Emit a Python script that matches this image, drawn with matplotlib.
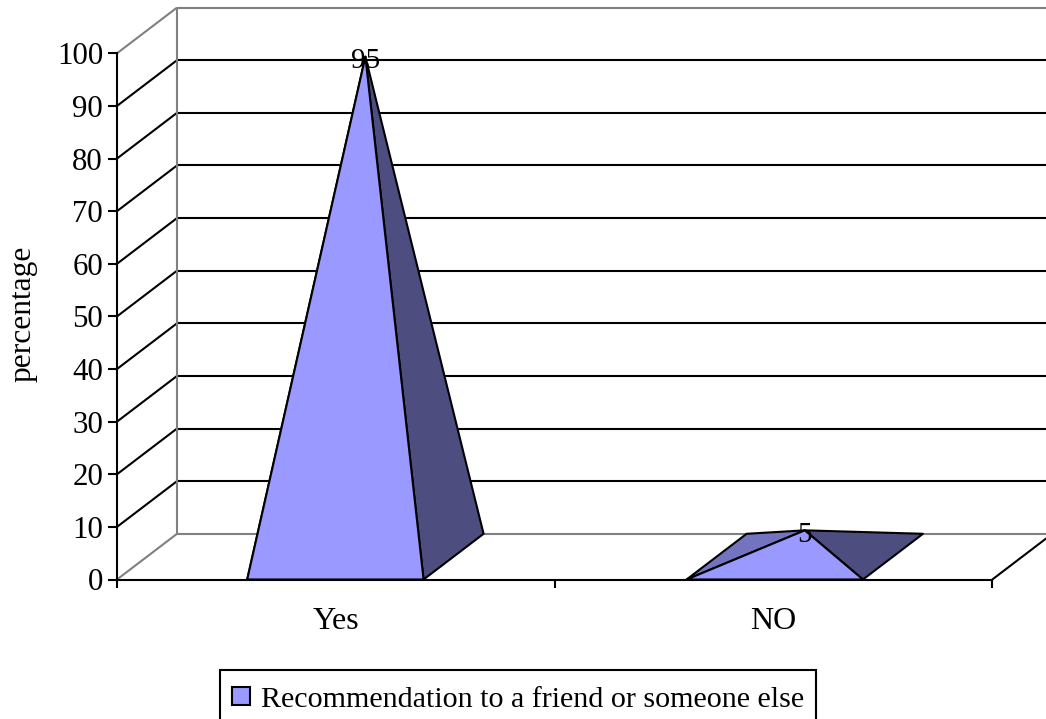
import matplotlib
matplotlib.use("Agg")
import matplotlib.pyplot as plt
from matplotlib.legend_handler import HandlerPatch
from matplotlib.patches import Patch, Polygon, Rectangle

plt.rcParams["font.family"] = ["Liberation Serif", "DejaVu Serif"]

categories = ["Yes", "NO"]
percentages = [95, 5]
y_ticks = list(range(0, 101, 10))
series_name = "Recommendation to a friend or someone else"
y_title = "percentage"

W, H = 1046, 719
FRONT = "#9999FF"
LEFT = "#7373BF"
RIGHT = "#4D4D80"
WALL = "#808080"
FS = 21.6
LW = 1.5

fig = plt.figure(figsize=(W / 100, H / 100), dpi=100)
ax = fig.add_axes([117 / W, 1 - 579.5 / H, 875.3 / W, 526.2 / H])
ax.set_xlim(0, 2)
ax.set_ylim(0, 100)

# Oblique depth of the pseudo-3D box, in data units
DX = 60 / 875.3 * 2
DY = 45.7 / 526.2 * 100
HALF = 0.2015


def line(xs, ys, color="black", z=2):
    ax.plot(xs, ys, color=color, lw=LW, clip_on=False, zorder=z, solid_capstyle="butt")


# Walls and gridlines
for v in y_ticks:
    edge = WALL if v in (0, 100) else "black"
    line([0, DX], [v, v + DY], color=edge)
    line([DX, 2 + DX], [v + DY, v + DY], color=edge)
line([DX, DX], [DY, 100 + DY], color=WALL)
line([2, 2 + DX], [0, DY])

# Each pyramid: the left, right and front faces meeting at a mid-depth apex
for i, value in enumerate(percentages):
    c = i + 0.5 + (-0.001 if i == 0 else 0.003)
    apex = (c + DX / 2, value + DY / 2)
    fl, fr = (c - HALF, 0), (c + HALF, 0)
    bl, br = (c - HALF + DX, DY), (c + HALF + DX, DY)
    for pts, col, z in (
        ((bl, fl, apex), LEFT, 3),
        ((br, fr, apex), RIGHT, 4),
        ((fl, fr, apex), FRONT, 5),
    ):
        ax.add_patch(Polygon(pts, closed=True, facecolor=col, edgecolor="black",
                             lw=LW, clip_on=False, zorder=z, joinstyle="round"))
    ax.text(apex[0], apex[1] - 0.9, str(value), ha="center", va="center",
            fontsize=21, zorder=6, clip_on=False)

# Axes furniture
for s in ("top", "right"):
    ax.spines[s].set_visible(False)
for s in ("left", "bottom"):
    ax.spines[s].set_linewidth(LW)
    ax.spines[s].set_zorder(7)
ax.patch.set_alpha(0)
ax.set_yticks(y_ticks)
ax.tick_params(axis="y", length=6.5, width=LW, labelsize=22.2, pad=3.5)
ax.set_xticks([0, 1, 2])
ax.set_xticklabels([])
ax.tick_params(axis="x", length=6, width=LW)
ax.set_xticks([0.5, 1.5], labels=categories, minor=True)
ax.tick_params(axis="x", which="minor", length=0, labelsize=23, pad=19.5)
ax.set_ylabel(y_title, fontsize=22.7)
ax.yaxis.set_label_coords(-80 / 875.3, 0.505)


def square_key(legend, orig_handle, xdescent, ydescent, width, height, fontsize):
    # Small square key sitting just above the text baseline
    return Rectangle((-xdescent, 1.5), 13, 13)


# The legend box runs off the lower edge of the figure
leg = fig.legend(
    handles=[Patch(facecolor=FRONT, edgecolor="black", lw=LW, label=series_name)],
    loc="upper center", bbox_to_anchor=(518 / W, 1 - 670 / H), fontsize=FS,
    fancybox=False, framealpha=1, edgecolor="black",
    handlelength=0.62, handleheight=1.19, handletextpad=0.35,
    borderpad=0.38, borderaxespad=0,
    handler_map={Patch: HandlerPatch(patch_func=square_key)},
)
leg.get_frame().set_linewidth(LW)

fig.savefig("out.png", dpi=100)
